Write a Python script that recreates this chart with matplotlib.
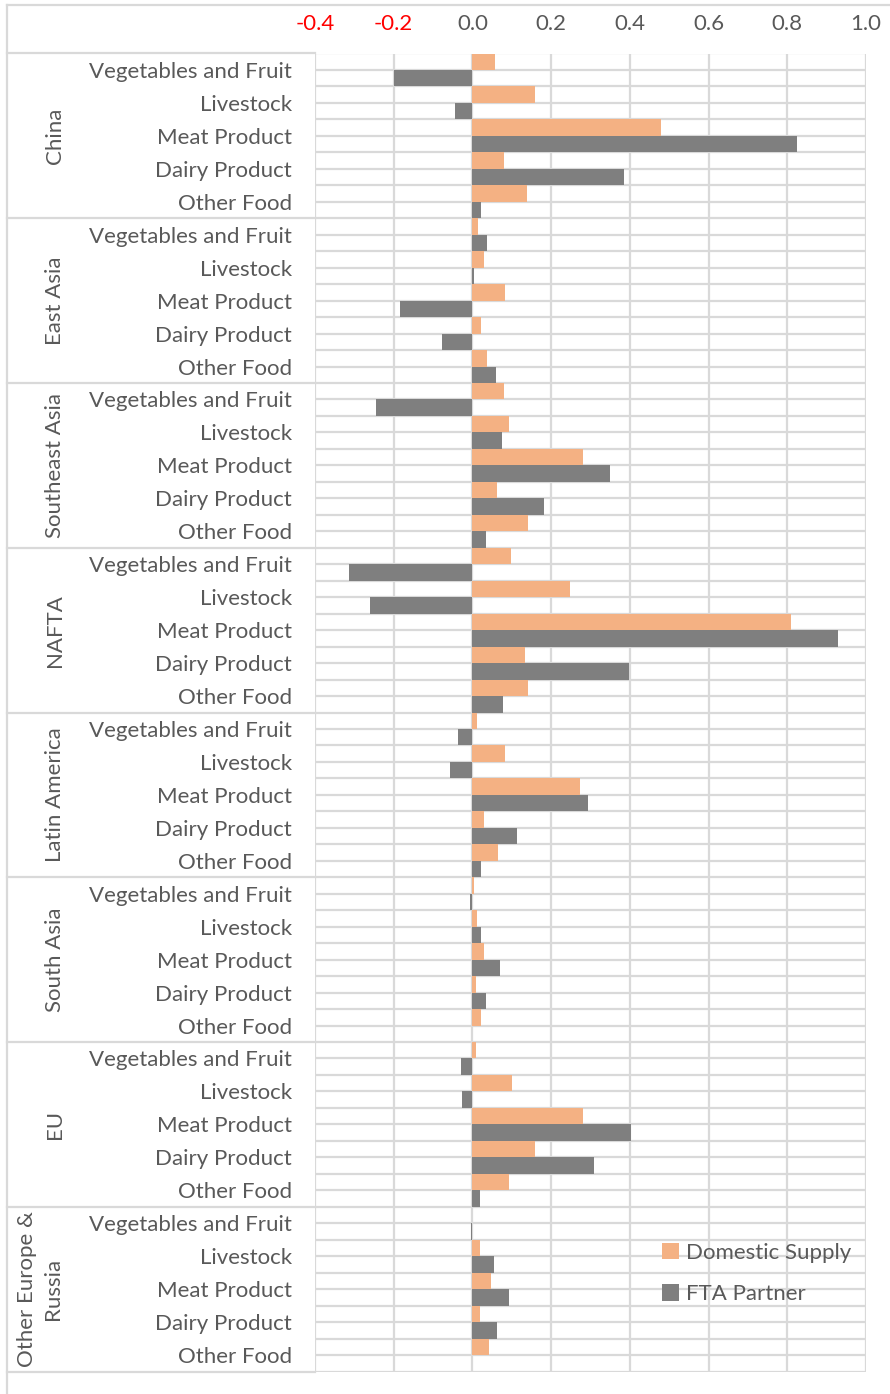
import numpy as np
import matplotlib.pyplot as plt

plt.rcParams['font.family'] = ['Lato', 'DejaVu Sans']

regions = ['China', 'East Asia', 'Southeast Asia', 'NAFTA', 'Latin America',
           'South Asia', 'EU', 'Other Europe &\nRussia']
products = ['Vegetables and Fruit', 'Livestock', 'Meat Product', 'Dairy Product', 'Other Food']

# values per region, products in the order above
domestic_supply = [
    0.057, 0.158, 0.478, 0.080, 0.139,   # China
    0.014, 0.030, 0.084, 0.023, 0.038,   # East Asia
    0.081, 0.094, 0.281, 0.062, 0.140,   # Southeast Asia
    0.097, 0.247, 0.810, 0.134, 0.141,   # NAFTA
    0.011, 0.083, 0.274, 0.030, 0.064,   # Latin America
    0.005, 0.012, 0.029, 0.009, 0.023,   # South Asia
    0.010, 0.101, 0.280, 0.160, 0.093,   # EU
    0.000, 0.019, 0.046, 0.018, 0.043,   # Other Europe & Russia
]
fta_partner = [
    -0.199, -0.044, 0.824, 0.386, 0.022,
    0.036, 0.005, -0.183, -0.077, 0.059,
    -0.245, 0.075, 0.350, 0.182, 0.034,
    -0.313, -0.261, 0.929, 0.397, 0.077,
    -0.036, -0.058, 0.293, 0.113, 0.022,
    -0.005, 0.023, 0.070, 0.034, 0.000,
    -0.030, -0.027, 0.402, 0.308, 0.020,
    -0.003, 0.056, 0.093, 0.063, 0.000,
]
xticks = [-0.4, -0.2, 0.0, 0.2, 0.4, 0.6, 0.8, 1.0]

orange = '#F4B183'
grey = '#7F7F7F'
txt = '#595959'
grid = '#D9D9D9'
fs = 16

W, H = 890, 1394
fig = plt.figure(figsize=(W / 100, H / 100), dpi=100)
ax = fig.add_axes([315 / W, 1 - 1371.5 / H, 551 / W, 1318 / H])

n = len(regions) * len(products)
rows = np.arange(n)
ax.barh(rows - 0.25, domestic_supply, height=0.5, color=orange, label='Domestic Supply', zorder=3)
ax.barh(rows + 0.25, fta_partner, height=0.5, color=grey, label='FTA Partner', zorder=3)

ax.set_xlim(-0.4, 1.0)
ax.set_ylim(n - 0.5, -0.5)

# gridlines
for x in xticks:
    ax.axvline(x, color=grid, lw=1.6, zorder=1)
for y in np.arange(-0.5, n, 0.5):
    ax.axhline(y, color=grid, lw=1.6, zorder=1)

for s in ax.spines.values():
    s.set_visible(False)

ax.xaxis.tick_top()
ax.set_xticks(xticks)
ax.set_xticklabels(['%.1f' % x for x in xticks], fontsize=fs)
for lab, x in zip(ax.get_xticklabels(), xticks):
    lab.set_color('#FF0000' if x < 0 else txt)
ax.tick_params(axis='x', length=0, pad=14)

ax.set_yticks(rows)
ax.set_yticklabels(products * len(regions), fontsize=fs, color=txt)
ax.tick_params(axis='y', length=0, pad=16.5)

# region boxes on the left
tr = ax.get_yaxis_transform()
x_left = (7 - 315) / 551
for k in range(len(regions) + 1):
    ax.plot([x_left, 0], [k * 5 - 0.5] * 2, color=grid, lw=1.6, transform=tr, clip_on=False)
for k, name in enumerate(regions):
    xc = 40 if '\n' in name else 55
    ax.text((xc - 315) / 551, k * 5 + 2, name, rotation=90, ha='center', va='center',
            fontsize=fs, color=txt, transform=tr, linespacing=1.35, multialignment='center')

# outer chart border
fig.add_artist(plt.Line2D([7 / W, 7 / W], [0, 1 - 5 / H], color=grid, lw=1.6))
fig.add_artist(plt.Line2D([7 / W, 1], [1 - 5 / H, 1 - 5 / H], color=grid, lw=1.6))

ax.legend(loc='upper left', bbox_to_anchor=(662 / W, 1 - 1243 / H), bbox_transform=fig.transFigure,
          frameon=False, fontsize=fs, labelcolor=txt, handlelength=0.75, handleheight=0.75,
          handletextpad=0.35, labelspacing=0.95, borderpad=0, borderaxespad=0)

fig.savefig('out.png', dpi=100, facecolor='white')
